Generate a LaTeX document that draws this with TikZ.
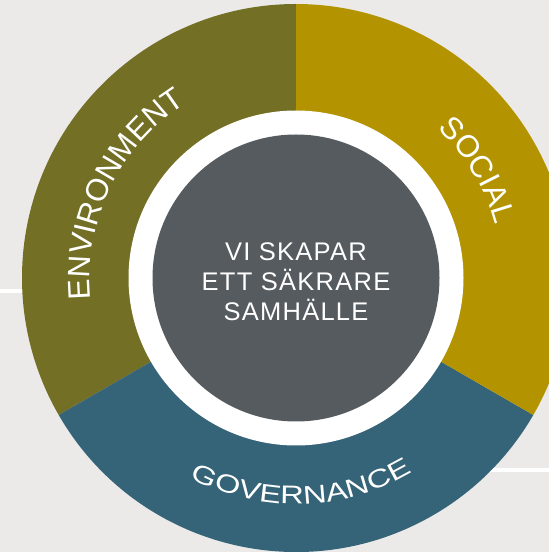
\documentclass[tikz,border=0pt]{standalone}
\usepackage{fontspec}
\setmainfont{Liberation Sans}
\newfontfamily\widefont[FakeStretch = 1.28]{Liberation Sans}
\usetikzlibrary{decorations.text}

\definecolor{bgcol}{HTML}{EBEAE8}
\definecolor{envcol}{HTML}{736F25}
\definecolor{soccol}{HTML}{B39400}
\definecolor{govcol}{HTML}{356378}
\definecolor{corecol}{HTML}{565B5F}

\tikzset{
	divider/.style = {draw = white, line width = 4.5pt},
	arclabel/.style = {decorate, decoration = {text along path, text align = center, text = {#1}}}
}

\begin{document}
\begin{tikzpicture}[x = 1pt, y = 1pt]
	\clip (0,0) rectangle (549,552);
	\fill[bgcol] (0,0) rectangle (549,552);
	\coordinate (C) at (296,274);
	\coordinate (L) at (0,261);
	\coordinate (R) at (549,82);
	\draw[divider] (L) -- (L -| C);
	\draw[divider] (R) -- (R -| C);
	\fill[envcol] (C) -- ++(90:274) arc[start angle = 90, end angle = 210, radius = 274pt] -- cycle;
	\fill[govcol] (C) -- ++(210:274) arc[start angle = 210, end angle = 330, radius = 274pt] -- cycle;
	\fill[soccol] (C) -- ++(330:274) arc[start angle = 330, end angle = 450, radius = 274pt] -- cycle;
	\fill[white] (C) circle[radius = 167.5pt];
	\fill[corecol] (C) circle[radius = 143.5pt];
	\path[arclabel = {|\fontsize{31}{31}\selectfont\color{white}|ENVIRONMENT}]
		([shift = {(214:206pt)}]C) arc[start angle = 214, end angle = 94, radius = 206pt];
	\path[arclabel = {|\fontsize{31}{31}\selectfont\color{white}|SOCIAL}]
		([shift = {(90.8:206pt)}]C) arc[start angle = 90.8, end angle = -29.2, radius = 206pt];
	\path[arclabel = {|\widefont\fontsize{25.5}{25.5}\selectfont\color{white}|GOVERNANCE}]
		([shift = {(211.5:226pt)}]C) arc[start angle = 211.5, end angle = 331.5, radius = 226pt];
	\node[align = center, text = white, font = \fontsize{25.5}{30}\selectfont\addfontfeatures{LetterSpace = 5}] (core) at (296,270.3) {VI SKAPAR\\ETT SÄKRARE\\SAMHÄLLE};
\end{tikzpicture}
\end{document}
